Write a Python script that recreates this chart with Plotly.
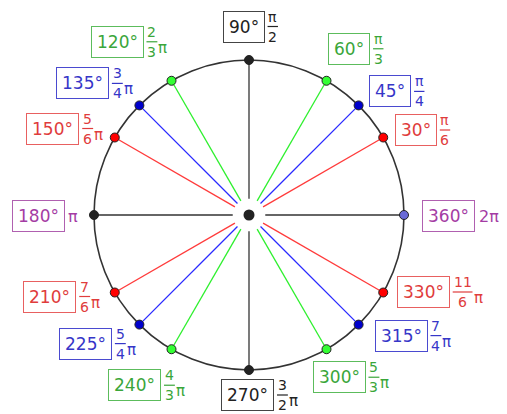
import math
import plotly.graph_objects as go

# ---------------- data ----------------
ANGLES_DEG = [0, 30, 45, 60, 90, 120, 135, 150, 180, 210, 225, 240, 270, 300, 315, 330]
DEG_LABELS = ["360°", "30°", "45°", "60°", "90°", "120°", "135°", "150°",
              "180°", "210°", "225°", "240°", "270°", "300°", "315°", "330°"]
RAD_NUM = ["", "π", "π", "π", "π", "2", "3", "5", "", "7", "5", "4", "3", "5", "7", "11"]
RAD_DEN = ["", "6", "4", "3", "2", "3", "4", "6", "", "6", "4", "3", "2", "3", "4", "6"]
RAD_INLINE = ["2π", "", "", "", "", "", "", "", "π", "", "", "", "", "", "", ""]
GROUP = ["purple", "red", "blue", "green", "black", "green", "blue", "red",
         "purple", "red", "blue", "green", "black", "green", "blue", "red"]
DOT_GROUP = ["lavender", "red", "blue", "green", "black", "green", "blue", "red",
             "black", "red", "blue", "green", "black", "green", "blue", "red"]

# ---------------- styles / layout ----------------
LINE_COL = {"red": "#ff3b3b", "blue": "#2a2aff", "green": "#2ef02e", "black": "#333333"}
DOT_COL = {"red": "#ff0000", "blue": "#0000cc", "green": "#33ff33",
           "black": "#222222", "lavender": "#6a6ad8"}
TXT_COL = {"red": "#e03c3c", "blue": "#3636c8", "green": "#3aa63a",
           "black": "#222222", "purple": "#a43ca4"}
BOX_COL = {"red": "#e86060", "blue": "#4a4ad0", "green": "#5cbc5c",
           "black": "#444444", "purple": "#b060b0"}
# box-centre offsets from each dot in screen pixels (dx right, dy down)
LABEL_OFF = {0: (44.5, 1), 30: (32.5, -7.5), 45: (31.4, -14), 60: (22.5, -32),
             90: (-5.5, -33.5), 120: (-54.5, -39), 135: (-57, -22), 150: (-62, -9),
             180: (-56, 1), 210: (-65, 4), 225: (-54, 19), 240: (-37, 36),
             270: (-1.5, 25), 300: (12.5, 28), 315: (42.4, 11), 330: (40, -0.5)}

W, H = 507, 414
CX, CY, R = 249, 215, 155
FS = 17
FFS = 14
PAD = 5
R0 = 0.105
FONT = "DejaVu Sans"

fig = go.Figure()

# unit circle
fig.add_shape(type="circle", xref="x", yref="y", x0=-1, y0=-1, x1=1, y1=1,
              line=dict(color="#333333", width=1.6), layer="below")

# radial lines grouped by colour
for g in ["black", "red", "blue", "green"]:
    xs, ys = [], []
    for a, grp in zip(ANGLES_DEG, GROUP):
        col_grp = "black" if grp == "purple" else grp
        if col_grp != g:
            continue
        t = math.radians(a)
        xs += [R0 * math.cos(t), math.cos(t), None]
        ys += [R0 * math.sin(t), math.sin(t), None]
    fig.add_trace(go.Scatter(x=xs, y=ys, mode="lines",
                             line=dict(color=LINE_COL[g], width=1.3),
                             hoverinfo="skip", showlegend=False))

# dots on the circle
fig.add_trace(go.Scatter(
    x=[math.cos(math.radians(a)) for a in ANGLES_DEG],
    y=[math.sin(math.radians(a)) for a in ANGLES_DEG],
    mode="markers",
    marker=dict(size=9, color=[DOT_COL[g] for g in DOT_GROUP],
                line=dict(color="#222222", width=1)),
    hoverinfo="skip", showlegend=False))

# centre dot
fig.add_trace(go.Scatter(x=[0], y=[0], mode="markers",
                         marker=dict(size=11, color="#222222"),
                         hoverinfo="skip", showlegend=False))

def text_w(s, fs):
    w = 0
    for ch in s:
        w += 0.5 * fs if ch == "°" else 0.636 * fs
    return w

for a, lab, num, den, inl, g in zip(ANGLES_DEG, DEG_LABELS, RAD_NUM, RAD_DEN, RAD_INLINE, GROUP):
    t = math.radians(a)
    ax, ay = math.cos(t), math.sin(t)
    dx, dy = LABEL_OFF[a]
    hw = text_w(lab, FS) / 2 + PAD + 1
    fig.add_annotation(x=ax, y=ay, xref="x", yref="y", text=lab, showarrow=False,
                       xanchor="center", yanchor="middle", xshift=dx, yshift=-dy,
                       font=dict(family=FONT, size=FS, color=TXT_COL[g]),
                       bordercolor=BOX_COL[g], borderwidth=1, borderpad=PAD,
                       bgcolor="rgba(255,255,255,0)")
    right = dx + hw
    if inl:
        fig.add_annotation(x=ax, y=ay, xref="x", yref="y", text=inl, showarrow=False,
                           xanchor="left", yanchor="middle", xshift=right + 2, yshift=-dy,
                           font=dict(family=FONT, size=FS - 1, color=TXT_COL[g]))
        continue
    nw = text_w(num, FFS) if num != "π" else 0.6 * FFS
    fcx = right + 3 + max(nw, 8) / 2 + 1
    fig.add_annotation(x=ax, y=ay, xref="x", yref="y", text=num, showarrow=False,
                       xanchor="center", yanchor="middle", xshift=fcx, yshift=-(dy - 10),
                       font=dict(family=FONT, size=FFS, color=TXT_COL[g]))
    fig.add_annotation(x=ax, y=ay, xref="x", yref="y", text=den, showarrow=False,
                       xanchor="center", yanchor="middle", xshift=fcx, yshift=-(dy + 10),
                       font=dict(family=FONT, size=FFS, color=TXT_COL[g]))
    bw = max(nw, 8) / 2 + 1
    fig.add_shape(type="line", xref="x", yref="y", xsizemode="pixel", ysizemode="pixel",
                  xanchor=ax, yanchor=ay, x0=fcx - bw, x1=fcx + bw, y0=-dy, y1=-dy,
                  line=dict(color=TXT_COL[g], width=1.2))
    if num != "π":
        fig.add_annotation(x=ax, y=ay, xref="x", yref="y", text="π", showarrow=False,
                           xanchor="left", yanchor="middle", xshift=fcx + bw - 1,
                           yshift=-(dy + 6),
                           font=dict(family=FONT, size=FFS + 1, color=TXT_COL[g]))

fig.update_layout(
    width=W, height=H, autosize=False,
    margin=dict(l=0, r=0, t=0, b=0),
    paper_bgcolor="white", plot_bgcolor="white",
    xaxis=dict(range=[-CX / R, (W - CX) / R], visible=False, fixedrange=True),
    yaxis=dict(range=[-(H - CY) / R, CY / R], visible=False, fixedrange=True),
    showlegend=False,
)

fig.write_html("out.html", config={"displayModeBar": False},
               post_script="document.body.style.margin='0';document.body.style.padding='0';"
                           "document.body.style.overflow='hidden';")
